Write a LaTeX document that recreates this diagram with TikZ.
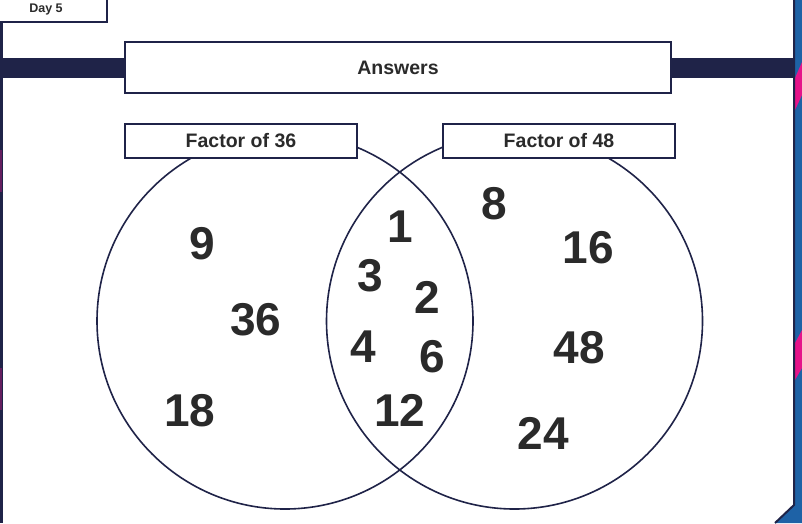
\documentclass[tikz,border=0pt]{standalone}
\usepackage{fontspec}
\setmainfont{Liberation Sans}
\definecolor{navy}{HTML}{1F2348}
\definecolor{bandblue}{HTML}{1E62A6}
\definecolor{pinkband}{HTML}{E5148A}
\definecolor{ink}{HTML}{2A2A2A}
\tikzset{
  titlebox/.style={draw=navy, line width=1.5pt, fill=white, text=ink, font=\bfseries\fontsize{19.5}{22}\selectfont},
  setcircle/.style={draw=navy, line width=1.6pt, circle, minimum size=376pt, inner sep=0pt},
  num/.style={text=ink, font=\bfseries\fontsize{46}{50}\selectfont, inner sep=0pt}
}
\begin{document}
\begin{tikzpicture}[x=1pt, y=-1pt]
\useasboundingbox (0,0) rectangle (802,523);
\fill[white] (0,0) rectangle (802,523);
% frame
\fill[bandblue] (794,0) -- (802,0) -- (802,523) -- (775,523) -- (794,505) -- cycle;
\fill[pinkband] (795,78) -- (802,62) -- (802,95) -- (795,110) -- cycle;
\fill[pinkband] (795,343) -- (802,330) -- (802,368) -- (795,380) -- cycle;
\draw[navy, line width=2pt] (794,0) -- (794,505) -- (775,523);
\draw[navy, line width=2.5pt] (1.25,22) -- (1.25,523);
\draw[pinkband!35!navy, line width=2pt] (1,150) -- (1,192);
\draw[pinkband!35!navy, line width=2pt] (1,368) -- (1,410);
\node[draw=navy, line width=1.5pt, fill=white, text=ink, minimum width=122pt, minimum height=26pt,
  font=\bfseries\fontsize{12.5}{14}\selectfont] (day) at (46,9) {Day 5};
\fill[navy] (0,58) rectangle (794,78);
\node[titlebox, minimum width=546pt, minimum height=51pt] (answers) at (398,67.5) {Answers};

% the two sets
\node[setcircle] (left) at (285,321) {};
\node[setcircle] (right) at (514.5,321) {};
\node[titlebox, minimum width=232pt, minimum height=34pt] (leftlabel) at (241,141) {Factor of 36};
\node[titlebox, minimum width=232pt, minimum height=34pt] (rightlabel) at (559,141) {Factor of 48};

% factors of 36 only
\node[num] (n9) at (202,244) {9};
\node[num] (n36) at (256,320) {36};
\node[num] (n18) at (190,411) {18};
% common factors
\node[num] (n1) at (400,227) {1};
\node[num] (n3) at (370,276) {3};
\node[num] (n2) at (427,297) {2};
\node[num] (n4) at (363,347) {4};
\node[num] (n6) at (432,357) {6};
\node[num] (n12) at (400,410) {12};
% factors of 48 only
\node[num] (n8) at (494,204) {8};
\node[num] (n16) at (588,248) {16};
\node[num] (n48) at (579,348) {48};
\node[num] (n24) at (543,433) {24};
\end{tikzpicture}
\end{document}
